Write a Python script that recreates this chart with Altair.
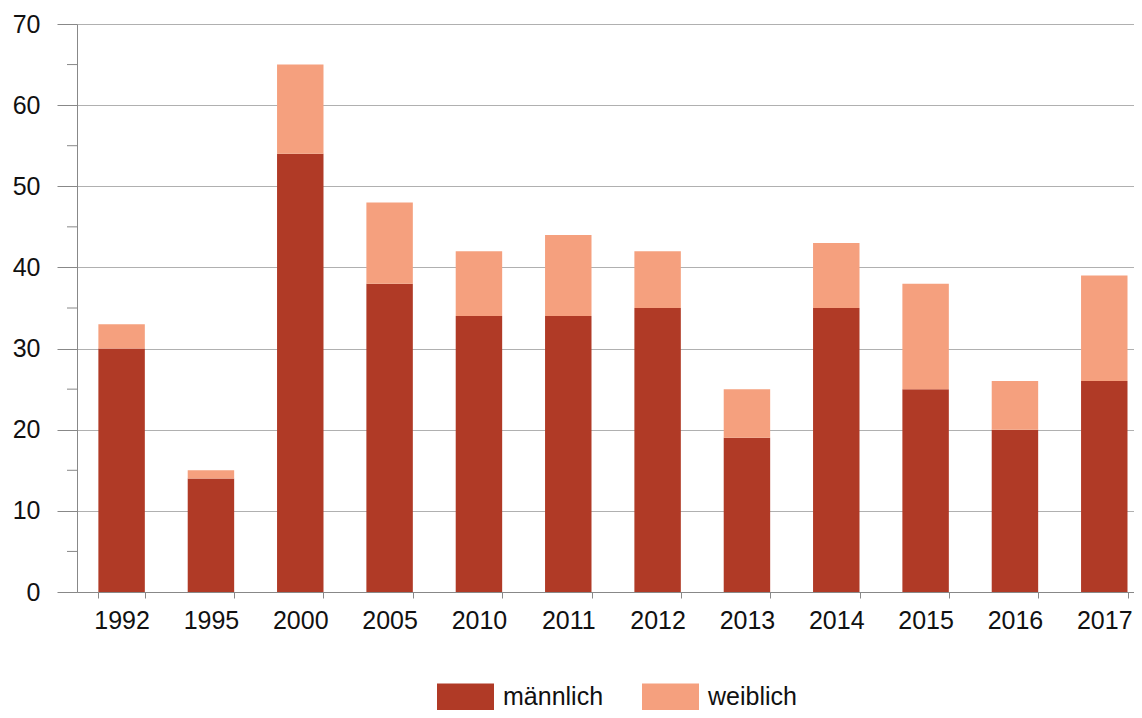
import altair as alt
import pandas as pd

years = ["1992", "1995", "2000", "2005", "2010", "2011", "2012", "2013", "2014", "2015", "2016", "2017"]
maennlich = [30, 14, 54, 38, 34, 34, 35, 19, 35, 25, 20, 26]
weiblich = [3, 1, 11, 10, 8, 10, 7, 6, 8, 13, 6, 13]
series = ["männlich", "weiblich"]
colors = ["#B03A26", "#F5A07E"]
y_ticks = [0, 10, 20, 30, 40, 50, 60, 70]
minor_ticks = [5, 15, 25, 35, 45, 55, 65]

rows = []
for y, m, w in zip(years, maennlich, weiblich):
    rows.append({"Jahr": y, "Geschlecht": series[0], "Anzahl": m, "o": 0})
    rows.append({"Jahr": y, "Geschlecht": series[1], "Anzahl": w, "o": 1})
df = pd.DataFrame(rows)
minor_df = pd.DataFrame({"v": minor_ticks})

FONT = "Liberation Sans"
W, H = 1057, 568

yscale = alt.Scale(domain=[0, 70], nice=False)

bars = alt.Chart(df).mark_bar().encode(
    x=alt.X("Jahr:N", sort=years,
            scale=alt.Scale(paddingInner=0.48, paddingOuter=0.156, align=0.767, round=False),
            axis=alt.Axis(title=None, labelAngle=0, tickBand="extent", tickSize=6,
                          labelPadding=10, labelFontSize=25, labelFont=FONT,
                          labelColor="#111", domainColor="#888", tickColor="#888",
                          grid=False)),
    y=alt.Y("Anzahl:Q", stack="zero", scale=yscale,
            axis=alt.Axis(title=None, values=y_ticks, tickSize=20, labelPadding=17,
                          labelFontSize=25, labelFont=FONT, labelColor="#111",
                          domainColor="#888", tickColor="#888", grid=True,
                          gridColor="#b0b0b0", gridWidth=1)),
    color=alt.Color("Geschlecht:N",
                    scale=alt.Scale(domain=series, range=colors),
                    legend=alt.Legend(title=None, orient="none", direction="horizontal",
                                      legendX=360, legendY=644,
                                      symbolType="M-1,-0.474L1,-0.474L1,0.474L-1,0.474Z",
                                      symbolSize=3249, symbolStrokeWidth=0,
                                      symbolOpacity=1,
                                      labelFontSize=25, labelFont=FONT, labelColor="#111",
                                      labelOffset=9, columnPadding=38)),
    order=alt.Order("o:Q", sort="ascending"),
)

minor = alt.Chart(minor_df).mark_rule(color="#888", strokeWidth=1).encode(
    y=alt.Y("v:Q", scale=yscale),
    x=alt.value(-10),
    x2=alt.value(0),
)

chart = alt.layer(bars, minor).properties(
    width=W, height=H,
    autosize=alt.AutoSizeParams(type="none"),
    padding={"left": 69, "top": 16, "right": 0, "bottom": 118},
).configure_view(stroke=None).configure(background="white")

chart.save("out.html", embed_options={"renderer": "svg", "actions": False})
